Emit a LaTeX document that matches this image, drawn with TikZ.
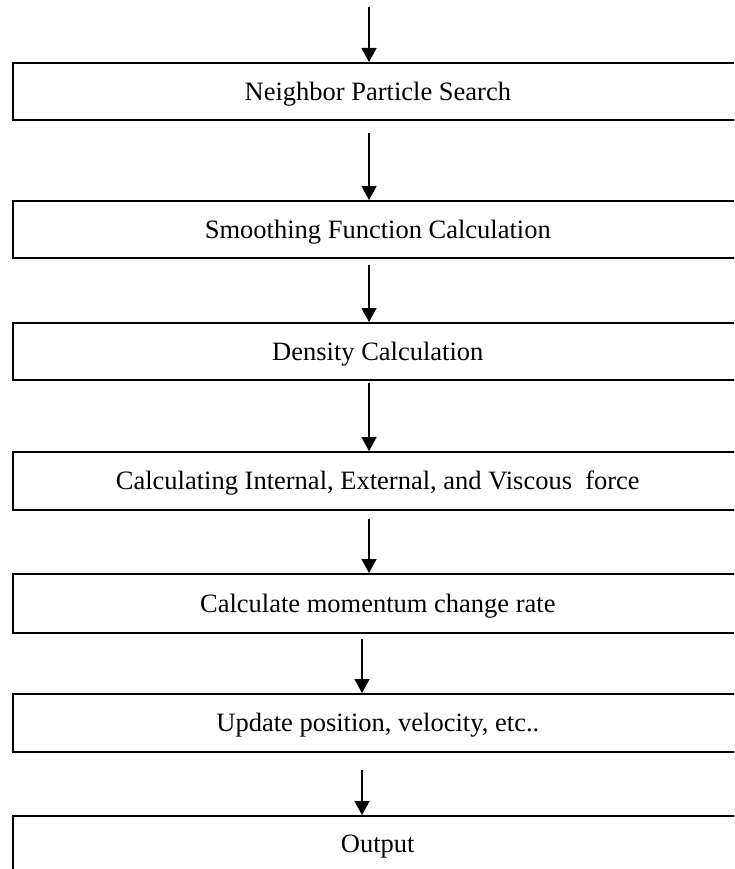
\documentclass[tikz,border=0pt]{standalone}
\usepackage{fontspec}
\setmainfont{Liberation Serif}
\usetikzlibrary{arrows.meta,calc}
\begin{document}
\begin{tikzpicture}[x=1pt,y=-1pt,
  stepbox/.style={draw=black, line width=1.6pt, rectangle, anchor=north west,
    minimum width=730pt, minimum height=#1, inner sep=0pt,
    text height=17.5pt, text depth=0pt, font=\fontsize{26.5pt}{30pt}\selectfont},
  flow/.style={line width=1.5pt, -{Triangle[length=14pt,width=15pt]}}]
\clip (0,0) rectangle (734,869);
\node[stepbox=57pt] (b1) at (12,62) {Neighbor Particle Search};
\node[stepbox=57pt] (b2) at (12,200) {Smoothing Function Calculation};
\node[stepbox=57pt] (b3) at (12,322) {Density Calculation};
\node[stepbox=58pt] (b4) at (12,451) {Calculating Internal, External, and Viscous\ \ force};
\node[stepbox=59pt] (b5) at (12,573) {Calculate momentum change rate};
\node[stepbox=58pt] (b6) at (12,693) {Update position, velocity, etc..};
\node[stepbox=56pt] (b7) at (12,815) {Output};
\coordinate (ax) at (369,0);
\coordinate (bx) at (362,0);
\coordinate (start) at (369,7);
\draw[flow] (start) -- (b1.north -| start);
\draw[flow] ($(b1.south -| ax)+(0,12)$) -- (b2.north -| ax);
\draw[flow] ($(b2.south -| ax)+(0,6)$) -- (b3.north -| ax);
\draw[flow] ($(b3.south -| ax)+(0,2)$) -- (b4.north -| ax);
\draw[flow] ($(b4.south -| ax)+(0,8)$) -- (b5.north -| ax);
\draw[flow] ($(b5.south -| bx)+(0,5)$) -- (b6.north -| bx);
\draw[flow] ($(b6.south -| bx)+(0,17)$) -- (b7.north -| bx);
\end{tikzpicture}
\end{document}
